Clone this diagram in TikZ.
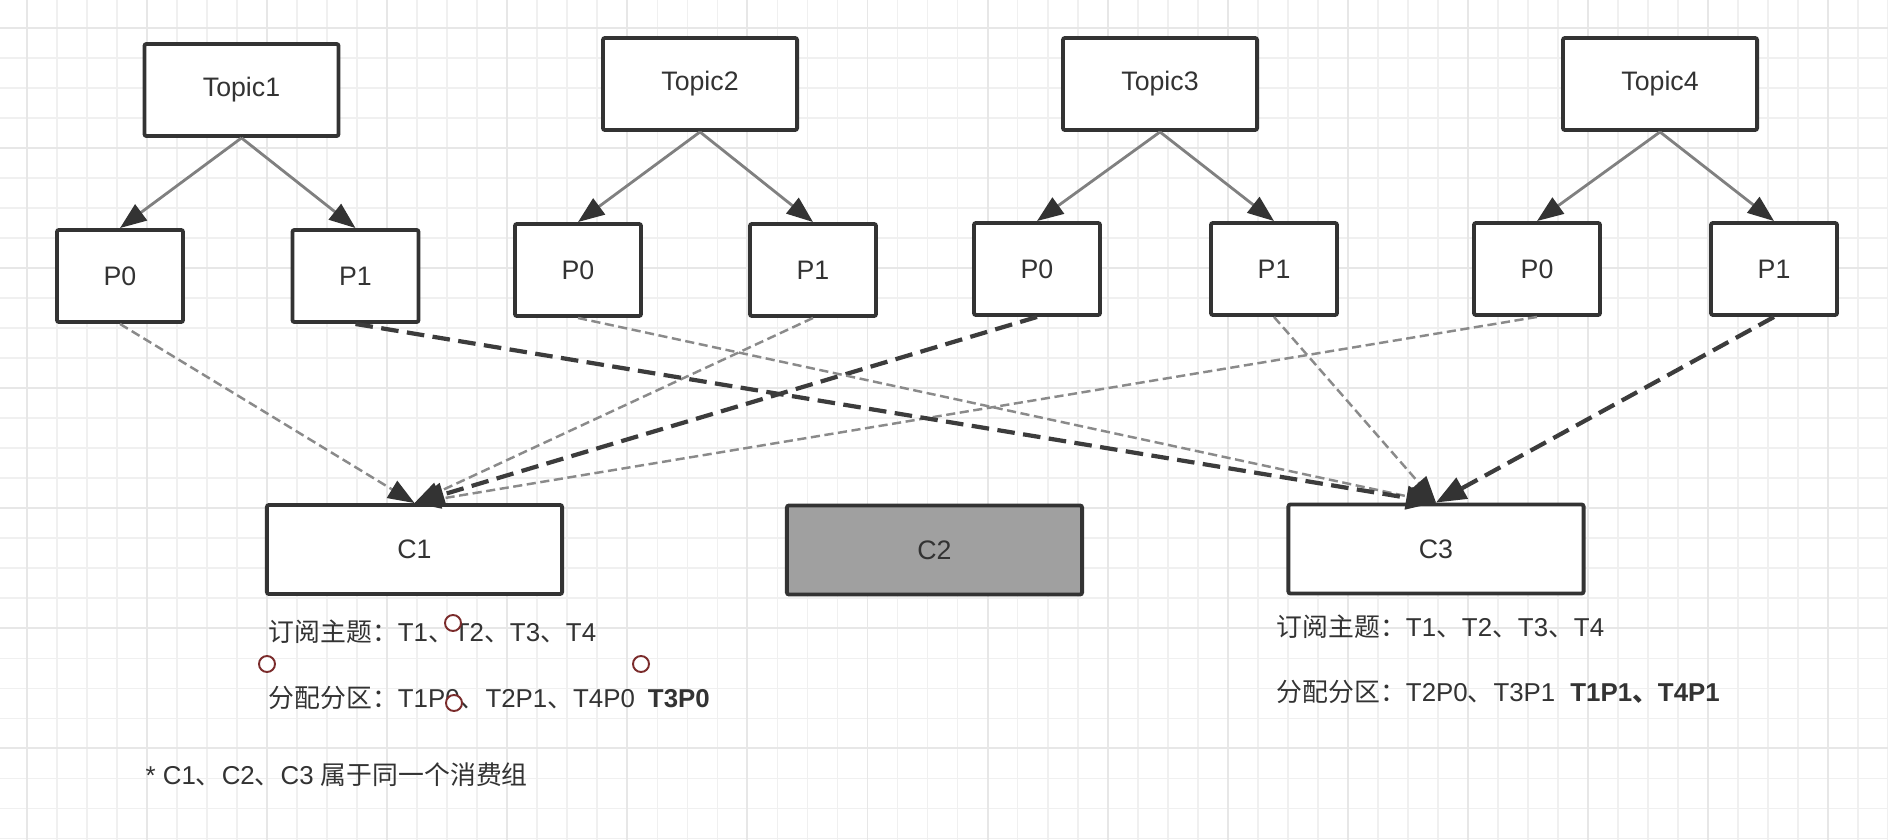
\documentclass[tikz,border=0pt]{standalone}
\usepackage{fontspec}
\setmainfont{Liberation Sans}
\newfontfamily\cjk{Noto Sans CJK SC}
\usetikzlibrary{arrows.meta}
\newcommand{\zh}[1]{{\cjk #1}}
\definecolor{boxline}{HTML}{333333}
\definecolor{edgegray}{HTML}{808080}
\definecolor{dashgray}{HTML}{8A8A8A}
\definecolor{dashdark}{HTML}{3C3C3C}
\definecolor{handle}{HTML}{7B2C2C}
\definecolor{gridminor}{HTML}{F0F0F0}
\definecolor{gridmajor}{HTML}{E7E7E7}
\definecolor{idle}{HTML}{A0A0A0}
\begin{document}
\begin{tikzpicture}[x=0.01cm, y=-0.01cm,
		font=\fontsize{7.6pt}{9pt}\selectfont, text=boxline,
		box/.style = {draw=boxline, line width=1.1pt, rounded corners=0.6pt, fill=white, minimum height=0.92cm, inner sep=0pt},
		topic/.style = {box, minimum width=1.94cm},
		part/.style = {box, minimum width=1.26cm},
		consumer/.style = {box, minimum width=2.95cm, minimum height=0.89cm},
		split/.style = {draw=edgegray, line width=0.8pt, -{Triangle[length=7.5pt, width=5.6pt, color=boxline]}},
		old/.style = {draw=dashgray, line width=0.7pt, dash pattern=on 2.6pt off 1.3pt, -{Triangle[length=7.5pt, width=5.6pt, color=boxline]}},
		new/.style = {draw=dashdark, line width=1.2pt, dash pattern=on 5pt off 2.4pt, -{Triangle[length=8.5pt, width=6.6pt, color=boxline]}},
		handlemark/.style = {draw=handle, fill=white, line width=0.55pt, circle, minimum size=0.16cm, inner sep=0pt},
		label/.style = {anchor=west, inner sep=0pt, font=\fontsize{7.35pt}{9pt}\selectfont}]
		\useasboundingbox (0,0) rectangle (1888,840);
		\fill[white] (0,0) rectangle (1888,840);
		% background grid
		\begin{scope}[xshift=-0.03cm, yshift=0.02cm]
			\draw[gridminor, line width=0.5pt, step=0.3cm] (0cm,-8.7cm) grid (19.2cm,0.3cm);
		\end{scope}
		\begin{scope}[xshift=0.27cm, yshift=-0.28cm]
			\draw[gridmajor, line width=0.55pt, step=1.2cm] (-1.2cm,-9.6cm) grid (19.2cm,1.2cm);
		\end{scope}
		% topics and partitions
		\node[topic] (t1) at (241.5,90) {Topic1};
		\node[part] (t1p0) at (120,276) {P0};
		\node[part] (t1p1) at (355.5,276) {P1};
		\node[topic] (t2) at (700,84) {Topic2};
		\node[part] (t2p0) at (578,270) {P0};
		\node[part] (t2p1) at (813,270) {P1};
		\node[topic] (t3) at (1160,84) {Topic3};
		\node[part] (t3p0) at (1037,269) {P0};
		\node[part] (t3p1) at (1274,269) {P1};
		\node[topic] (t4) at (1660,84) {Topic4};
		\node[part] (t4p0) at (1537,269) {P0};
		\node[part] (t4p1) at (1774,269) {P1};
		% consumers
		\node[consumer] (c1) at (414.5,549.5) {C1};
		\node[consumer, fill=idle] (c2) at (934.5,550) {C2};
		\node[consumer] (c3) at (1436,549) {C3};
		\draw[split] (t1.south) -- (t1p0.north);
		\draw[split] (t1.south) -- (t1p1.north);
		\draw[split] (t2.south) -- (t2p0.north);
		\draw[split] (t2.south) -- (t2p1.north);
		\draw[split] (t3.south) -- (t3p0.north);
		\draw[split] (t3.south) -- (t3p1.north);
		\draw[split] (t4.south) -- (t4p0.north);
		\draw[split] (t4.south) -- (t4p1.north);
		% assignment
		\draw[old] (t1p0.south) -- (c1.north);
		\draw[old] (t2p1.south) -- (c1.north);
		\draw[old] (t4p0.south) -- (c1.north);
		\draw[new] (t3p0.south) -- (c1.north);
		\draw[old] (t2p0.south) -- (c3.north);
		\draw[old] (t3p1.south) -- (c3.north);
		\draw[new] (t1p1.south) -- (c3.north);
		\draw[new] (t4p1.south) -- (c3.north);
		% notes
		\node[label] (sub1) at (268,632) {\zh{订阅主题：}T1\zh{、}T2\zh{、}T3\zh{、}T4};
		\node[label] (asg1) at (268,698) {\zh{分配分区：}T1P0\zh{、}T2P1\zh{、}T4P0\hspace{0.13cm}\textbf{T3P0}};
		\node[label] (sub3) at (1276,627) {\zh{订阅主题：}T1\zh{、}T2\zh{、}T3\zh{、}T4};
		\node[label] (asg3) at (1276,692) {\zh{分配分区：}T2P0\zh{、}T3P1\hspace{0.15cm}\textbf{T1P1\zh{、}T4P1}};
		\node[label] (note) at (145,775) {* C1\zh{、}C2\zh{、}C3 \zh{属于同一个消费组}};
		\node[handlemark] (h1) at (453,623) {};
		\node[handlemark] (h2) at (267,664) {};
		\node[handlemark] (h3) at (641,664) {};
		\node[handlemark] (h4) at (454,703) {};
	\end{tikzpicture}
\end{document}
